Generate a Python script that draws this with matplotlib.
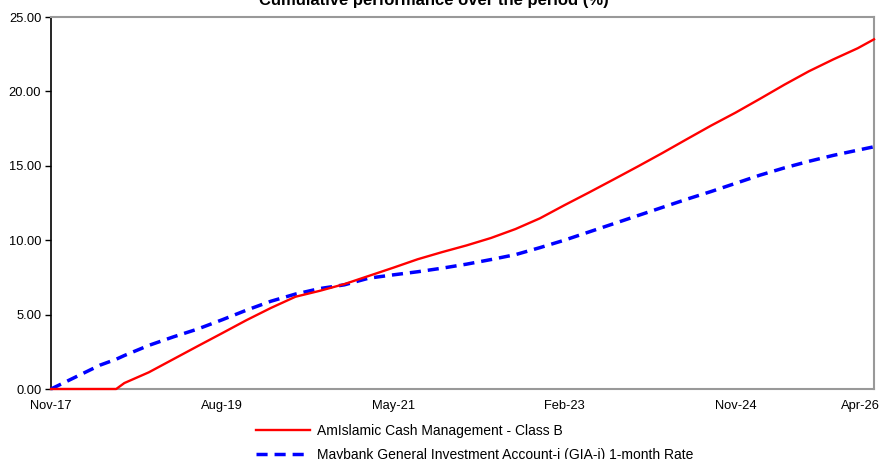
import matplotlib
matplotlib.use('Agg')
import matplotlib.pyplot as plt
import matplotlib.transforms as mtransforms
import numpy as np

# months elapsed since Nov-17
months = [0, 3, 6, 8, 9, 12, 15, 18, 21, 24, 27, 30, 33, 36, 39, 42, 45, 48, 51,
          54, 57, 60, 63, 66, 69, 72, 75, 78, 81, 84, 87, 90, 93, 96, 99, 101]

fund = [0, 0, 0, 0, 0.4, 1.12, 2.0, 2.88, 3.75, 4.63, 5.45, 6.2, 6.6, 7.05, 7.6,
        8.15, 8.72, 9.2, 9.65, 10.15, 10.75, 11.47, 12.35, 13.2, 14.07, 14.95,
        15.85, 16.78, 17.7, 18.57, 19.5, 20.45, 21.35, 22.15, 22.9, 23.5]

bench = [0, 0.8, 1.6, 2.0, 2.25, 2.93, 3.5, 4.03, 4.65, 5.3, 5.9, 6.38, 6.75, 7.0,
         7.45, 7.67, 7.88, 8.12, 8.39, 8.7, 9.03, 9.5, 10.0, 10.55, 11.1, 11.65,
         12.2, 12.75, 13.27, 13.82, 14.37, 14.86, 15.3, 15.7, 16.05, 16.28]

tick_months = [0, 21, 42, 63, 84, 101]
tick_labels = ['Nov-17', 'Aug-19', 'May-21', 'Feb-23', 'Nov-24', 'Apr-26']

fund_name = 'AmIslamic Cash Management - Class B'
bench_name = 'Maybank General Investment Account-i (GIA-i) 1-month Rate'


def main():
    plt.rcParams['font.family'] = ['Liberation Sans', 'DejaVu Sans']

    fig = plt.figure(figsize=(8.8, 4.59), dpi=100)
    ax = fig.add_axes([51 / 880, 1 - 389 / 459, 823 / 880, 372 / 459])

    l1, = ax.plot(months, fund, color='#ff0000', lw=1.7, label=fund_name,
                  zorder=4, clip_on=False)
    l2, = ax.plot(months, bench, color='#0000ff', lw=2.5, ls=(0, (3.2, 2.0)),
                  label=bench_name, zorder=3, clip_on=False)

    ax.set_xlim(0, 101)
    ax.set_ylim(0, 25)
    ax.set_yticks(np.arange(0, 26, 5))
    ax.set_yticklabels(['%.2f' % v for v in np.arange(0, 26, 5)])
    ax.set_xticks(tick_months)
    ax.set_xticklabels(tick_labels)
    ax.tick_params(axis='y', length=4, width=1, color='black', labelsize=9.3, pad=3)
    ax.tick_params(axis='x', length=0, labelsize=9.3, pad=8)

    # last date label is pulled in so it stays on the page
    last = ax.get_xticklabels()[-1]
    last.set_horizontalalignment('right')
    last.set_transform(last.get_transform() +
                       mtransforms.ScaledTranslation(0.06, 0, fig.dpi_scale_trans))

    ax.spines['left'].set_color('black')
    ax.spines['left'].set_linewidth(1.2)
    for s in ['bottom', 'top', 'right']:
        ax.spines[s].set_color('#999999')
        ax.spines[s].set_linewidth(1.5)

    fig.text(434 / 880, 1 - 1 / 459, 'Cumulative performance over the period (%)',
             ha='center', va='center', fontsize=12, fontweight='bold')

    fig.legend(handles=[l1, l2], loc='upper left',
               bbox_to_anchor=(250 / 880, 1 - 418 / 459), frameon=False,
               fontsize=10, handlelength=3.95, handletextpad=0.45,
               labelspacing=0.75, borderaxespad=0)

    fig.savefig('out.png', dpi=100)


if __name__ == '__main__':
    main()
